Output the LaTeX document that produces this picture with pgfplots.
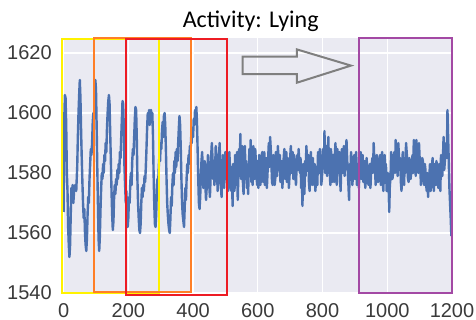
\documentclass[border=0pt]{standalone}
\usepackage{fontspec}
\setmainfont{Liberation Sans}
\newfontfamily\titlefont{Carlito}
\usepackage{pgfplots}
\pgfplotsset{compat=1.18}
\definecolor{bg}{HTML}{EAEAF2}
\definecolor{sbblue}{HTML}{4C72B0}
\definecolor{labelgray}{HTML}{3A3A3A}
\definecolor{pyellow}{HTML}{FFF200}
\definecolor{porange}{HTML}{FF7F27}
\definecolor{pred}{HTML}{ED1C24}
\definecolor{ppurple}{HTML}{A349A4}
\definecolor{agray}{HTML}{7F7F7F}
\pgfplotstableread{
x y
0 1567
2 1598
4 1606
6 1605
8 1596
10 1580
12 1574
14 1562
16 1556
18 1552
20 1556
22 1566
24 1575
26 1571
28 1576
30 1570
33 1575
36 1576
39 1574
42 1582
44 1592
46 1600
48 1606
50 1611
52 1605
54 1594
56 1585
58 1577
60 1570
62 1565
64 1568
66 1560
68 1556
70 1554
72 1558
74 1566
76 1572
78 1570
80 1578
82 1583
84 1588
86 1586
88 1590
90 1597
92 1600
94 1598
96 1605
98 1611
100 1608
102 1596
104 1582
106 1570
108 1558
110 1554
112 1559
114 1568
116 1575
118 1580
120 1578
122 1583
124 1580
126 1586
128 1584
130 1590
132 1587
134 1595
136 1600
138 1604
140 1606
142 1603
144 1593
146 1584
148 1574
150 1566
152 1561
154 1564
156 1572
158 1576
160 1573
162 1578
164 1576
166 1581
168 1578
170 1583
172 1580
174 1587
176 1585
178 1592
180 1598
182 1604
184 1603
186 1595
188 1582
190 1576
192 1570
194 1574
196 1566
198 1562
200 1565
202 1572
204 1570
206 1577
208 1580
210 1576
212 1584
214 1588
216 1586
218 1592
220 1598
222 1602
224 1601
226 1592
228 1578
230 1570
232 1565
234 1561
236 1560
238 1563
240 1570
242 1575
244 1572
246 1576
248 1574
250 1579
252 1577
254 1582
256 1588
258 1595
260 1600
262 1597
264 1601
266 1596
268 1600
270 1601
272 1598
274 1600
276 1593
278 1580
280 1570
282 1563
284 1562
286 1566
288 1574
290 1578
292 1576
294 1582
296 1586
298 1584
300 1590
302 1588
304 1594
306 1597
308 1592
310 1599
312 1600
314 1596
316 1588
318 1578
320 1570
322 1566
324 1563
326 1561
328 1560
330 1565
332 1572
334 1569
336 1576
338 1580
340 1576
342 1584
344 1580
346 1587
348 1582
350 1588
352 1584
354 1590
356 1595
358 1599
360 1596
362 1588
364 1578
366 1570
368 1566
370 1564
372 1562
374 1568
376 1575
378 1571
380 1578
382 1583
384 1580
386 1586
388 1583
390 1589
392 1586
394 1592
396 1590
398 1595
400 1592
402 1598
404 1596
406 1601
408 1598
410 1602
412 1597
414 1588
416 1578
418 1570
420 1568
422 1572
424 1579
426 1584
428 1587
430 1581
432 1575
434 1580
436 1584
438 1576
440 1571
442 1575
444 1580
446 1586
448 1582
450 1576
452 1572
454 1578
456 1586
458 1590
460 1585
462 1578
464 1584
466 1576
468 1581
470 1589
472 1586
474 1580
476 1574
478 1578
480 1585
482 1590
484 1582
486 1576
488 1572
490 1580
492 1586
494 1581
496 1575
498 1582
500 1587
502 1578
504 1586
506 1585
508 1574
510 1576
512 1587
514 1582
516 1577
518 1574
520 1582
522 1569
524 1583
526 1578
528 1574
530 1586
532 1576
534 1580
536 1587
538 1571
540 1580
542 1588
544 1579
546 1593
548 1578
550 1584
552 1589
554 1577
556 1573
558 1586
560 1589
562 1580
564 1584
566 1575
568 1582
570 1573
572 1581
574 1588
576 1580
578 1591
580 1577
582 1583
584 1576
586 1589
588 1584
590 1578
592 1588
594 1584
596 1579
598 1576
600 1584
602 1575
604 1586
606 1583
608 1576
610 1579
612 1586
614 1587
616 1577
618 1581
620 1587
622 1576
624 1580
626 1585
628 1575
630 1580
632 1585
634 1590
636 1582
638 1592
640 1588
642 1583
644 1577
646 1576
648 1586
650 1582
652 1576
654 1578
656 1587
658 1586
660 1579
662 1589
664 1584
666 1581
668 1586
670 1577
672 1580
674 1584
676 1575
678 1580
680 1585
682 1588
684 1578
686 1583
688 1587
690 1577
692 1585
694 1582
696 1575
698 1579
700 1585
702 1589
704 1580
706 1584
708 1587
710 1578
712 1586
714 1583
716 1579
718 1576
720 1583
722 1586
724 1581
726 1588
728 1584
730 1580
732 1585
734 1575
736 1579
738 1569
740 1583
742 1578
744 1573
746 1584
748 1579
750 1589
752 1585
754 1581
756 1586
758 1577
760 1574
762 1583
764 1587
766 1579
768 1576
770 1585
772 1580
774 1576
776 1583
778 1574
780 1579
782 1582
784 1576
786 1587
788 1583
790 1580
792 1588
794 1584
796 1576
798 1578
800 1583
802 1588
804 1582
806 1594
808 1580
810 1585
812 1589
814 1579
816 1585
818 1592
820 1580
822 1583
824 1576
826 1588
828 1583
830 1577
832 1586
834 1581
836 1577
838 1586
840 1590
842 1580
844 1576
846 1588
848 1580
850 1583
852 1587
854 1578
856 1574
858 1585
860 1588
862 1580
864 1585
866 1589
868 1579
870 1584
872 1587
874 1591
876 1585
878 1580
880 1576
882 1571
884 1583
886 1578
888 1587
890 1584
892 1576
894 1579
896 1583
898 1586
900 1578
902 1581
904 1587
906 1576
908 1580
910 1583
912 1575
914 1579
916 1583
918 1587
920 1578
922 1582
924 1586
926 1577
928 1580
930 1584
932 1575
934 1578
936 1585
938 1582
940 1579
942 1576
944 1581
946 1583
948 1575
950 1580
952 1583
954 1585
956 1580
958 1590
960 1584
962 1583
964 1576
966 1578
968 1586
970 1584
972 1577
974 1580
976 1583
978 1586
980 1576
982 1581
984 1587
986 1577
988 1574
990 1583
992 1586
994 1579
996 1583
998 1574
1000 1577
1002 1580
1004 1575
1006 1567
1008 1576
1010 1578
1012 1587
1014 1584
1016 1578
1018 1580
1020 1585
1022 1587
1024 1580
1026 1591
1028 1585
1030 1584
1032 1579
1034 1590
1036 1586
1038 1581
1040 1585
1042 1577
1044 1574
1046 1583
1048 1587
1050 1579
1052 1576
1054 1585
1056 1580
1058 1590
1060 1587
1062 1583
1064 1578
1066 1577
1068 1585
1070 1584
1072 1578
1074 1580
1076 1583
1078 1586
1080 1580
1082 1591
1084 1587
1086 1584
1088 1579
1090 1591
1092 1583
1094 1585
1096 1580
1098 1590
1100 1585
1102 1582
1104 1576
1106 1578
1108 1585
1110 1584
1112 1579
1114 1576
1116 1583
1118 1581
1120 1576
1122 1574
1124 1580
1126 1572
1128 1576
1130 1579
1132 1583
1134 1574
1136 1578
1138 1582
1140 1585
1142 1577
1144 1574
1146 1583
1148 1579
1150 1576
1152 1584
1154 1581
1156 1577
1158 1575
1160 1583
1162 1580
1164 1574
1166 1586
1168 1582
1170 1579
1172 1585
1174 1592
1176 1581
1178 1584
1180 1588
1182 1590
1184 1585
1186 1601
1188 1592
1190 1584
1192 1575
1194 1570
1196 1565
1198 1559
}\signal
\begin{document}
\begin{tikzpicture}
\begin{axis}[
  scale only axis, width=292.5pt, height=191.25pt,
  xmin=-5, xmax=1200, ymin=1540, ymax=1625,
  xtick={0,200,...,1200}, ytick={1540,1560,...,1620},
  axis background/.style={fill=bg},
  axis line style={draw=none},
  major tick length=0pt,
  grid=major, major grid style={white, line width=0.9pt},
  tick label style={font=\fontsize{15}{15}\selectfont, text=labelgray},
  /pgf/number format/assume math mode=true,
  /pgf/number format/1000 sep={},
  yticklabel style={inner sep=0pt, xshift=-7.5pt},
  xticklabel style={inner sep=0pt, yshift=-7.5pt},
  clip=false,
]
\addplot[sbblue, line width=1.8pt, line join=round] table[x=x,y=y] {\signal};
\draw[pyellow, line width=1.6pt] (axis cs:-5,1539.9) rectangle (axis cs:293.8,1624.6);
\draw[porange, line width=1.6pt] (axis cs:94.8,1540.3) rectangle (axis cs:392.6,1624.9);
\draw[pred, line width=1.6pt] (axis cs:191.8,1539.3) rectangle (axis cs:505.8,1624.8);
\draw[ppurple, line width=1.6pt] (axis cs:911.7,1539.9) rectangle (axis cs:1200,1625.1);
\draw[agray, line width=1.5pt, line join=miter]
  (axis cs:553.3,1618.8) -- (axis cs:720.9,1618.8) -- (axis cs:720.9,1621.2)
  -- (axis cs:887.8,1615.8) -- (axis cs:720.9,1610.1) -- (axis cs:720.9,1613.0)
  -- (axis cs:553.3,1613.0) -- cycle;
\node[font=\titlefont\fontsize{18}{18}\selectfont, anchor=base] at (axis cs:578,1628.4) {Activity: Lying};
\end{axis}
\pgfresetboundingbox
\useasboundingbox (-46.5pt,-20.25pt) rectangle (310.5pt,219.75pt);
\end{tikzpicture}
\end{document}
